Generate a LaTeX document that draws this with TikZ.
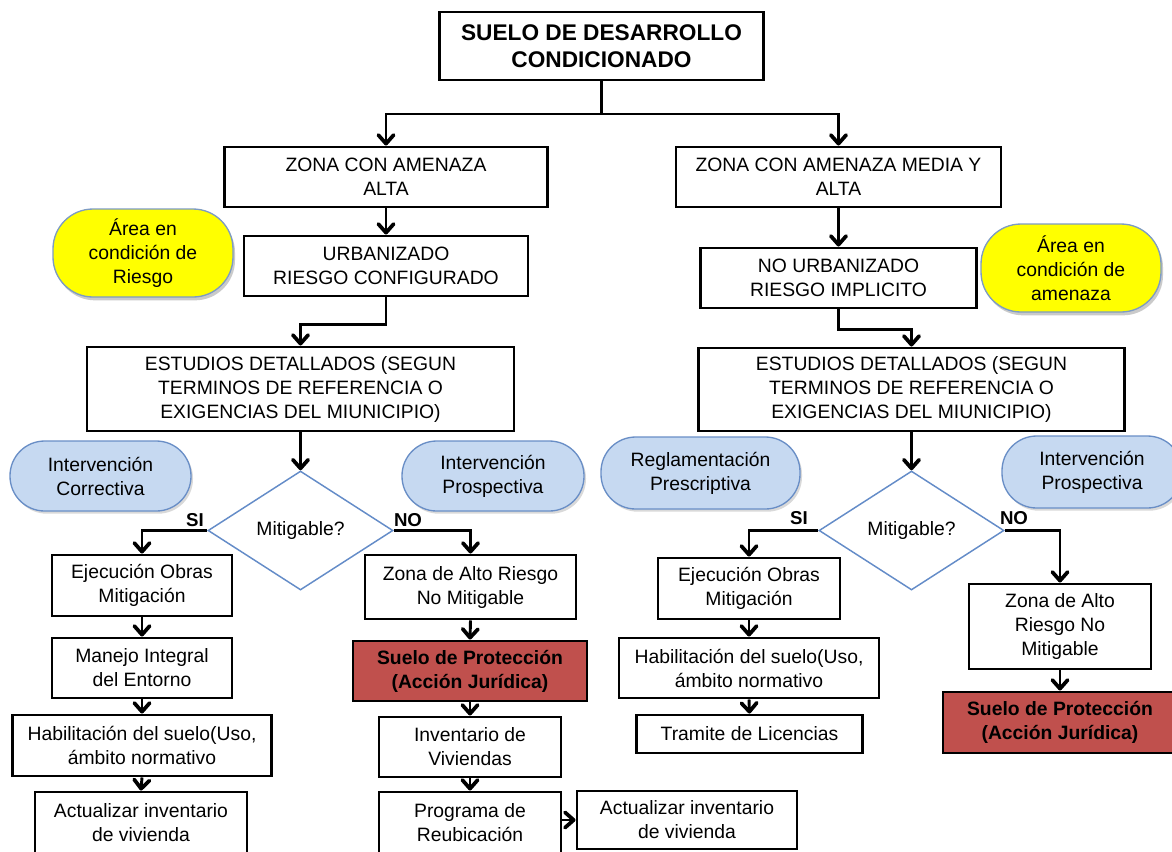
\documentclass[tikz,border=0pt]{standalone}
\usepackage{fontspec}
\setmainfont{Liberation Sans}
\usetikzlibrary{shapes.geometric,arrows.meta,shadows}
\definecolor{notefill}{RGB}{255,255,0}
\definecolor{noteline}{RGB}{125,155,195}
\definecolor{bluefill}{RGB}{198,217,241}
\definecolor{blueline}{RGB}{105,142,198}
\definecolor{decline}{RGB}{100,140,200}
\definecolor{protfill}{RGB}{192,80,77}
\begin{document}
\begin{tikzpicture}[x=0.75pt,y=-0.75pt,
  sz/.style 2 args={minimum width=#1*0.75pt, minimum height=#2*0.75pt},
  txt/.style={font=\fontsize{14.5}{18}\selectfont},
  box/.style={draw, line width=2.2pt, fill=white, align=center, inner sep=0pt, txt},
  protbox/.style={box, fill=protfill, font=\bfseries\fontsize{14.5}{18}\selectfont},
  note/.style={draw=noteline, line width=1pt, fill=notefill, align=center, inner sep=0pt,
    rounded corners=30pt, txt,
    drop shadow={shadow xshift=1.5pt, shadow yshift=-2.5pt, opacity=0.35, fill=black!60}},
  tag/.style={draw=blueline, line width=1pt, fill=bluefill, align=center, inner sep=0pt,
    rounded corners=26pt, txt,
    drop shadow={shadow xshift=1.5pt, shadow yshift=-2pt, opacity=0.25, fill=black!60}},
  decision/.style={diamond, draw=decline, line width=1.1pt, fill=white, inner sep=0pt,
    aspect=1.55, txt},
  lbl/.style={font=\bfseries\fontsize{14}{16}\selectfont, inner sep=0pt},
  arr/.style={draw, line width=2.2pt,
    -{Straight Barb[length=6.5pt,width=11.5pt,line width=2.8pt,round]}}
]
\useasboundingbox (0,0) rectangle (1172,851);
\clip (0,0) rectangle (1172,851);

% root
\node[box, sz={324}{68}, font=\bfseries\fontsize{17}{20.5}\selectfont] (top) at (601.5,46)
  {SUELO DE DESARROLLO\\CONDICIONADO};

% first level
\node[box, sz={323}{60}] (z1L) at (386,177) {ZONA CON AMENAZA\\ALTA};
\node[box, sz={325}{60}] (z1R) at (838.5,177) {ZONA CON AMENAZA MEDIA Y\\ALTA};

% notes
\node[note, sz={180}{88}] (yL) at (143,253) {Área en\\condición de\\Riesgo};
\node[note, sz={180}{88}] (yR) at (1071,268) {Área en\\condición de\\amenaza};

% second level
\node[box, sz={284}{60}] (u) at (386,266) {URBANIZADO\\RIESGO CONFIGURADO};
\node[box, sz={276}{60}] (nu) at (838.5,278) {NO URBANIZADO\\RIESGO IMPLICITO};

% studies
\node[box, sz={427}{84}] (estL) at (300.5,389)
  {ESTUDIOS DETALLADOS (SEGUN\\TERMINOS DE REFERENCIA O\\EXIGENCIAS DEL MIUNICIPIO)};
\node[box, sz={426}{83}] (estR) at (911.5,389.5)
  {ESTUDIOS DETALLADOS (SEGUN\\TERMINOS DE REFERENCIA O\\EXIGENCIAS DEL MIUNICIPIO)};

% intervention tags
\node[tag, sz={181}{70}] (bL1) at (100.5,476) {Intervención\\Correctiva};
\node[tag, sz={182}{70}] (bL2) at (493,476) {Intervención\\Prospectiva};
\node[tag, sz={199}{72}] (bR1) at (700.5,473) {Reglamentación\\Prescriptiva};
\node[tag, sz={180}{72}] (bR2) at (1092,472) {Intervención\\Prospectiva};

% decisions
\node[decision, sz={185}{119}] (dL) at (300.5,530.5) {Mitigable?};
\node[decision, sz={185}{119}] (dR) at (911.5,530.5) {Mitigable?};
\node[lbl] (siL) at (195,520) {SI};
\node[lbl] (noL) at (408,520) {NO};
\node[lbl] (siR) at (799,518) {SI};
\node[lbl] (noR) at (1014,518) {NO};

% left branch, mitigable
\node[box, sz={180}{61}] (ejL) at (142,585.5) {Ejecución Obras\\Mitigación};
\node[box, sz={180}{60}] (mL) at (142,668) {Manejo Integral\\del Entorno};
\node[box, sz={259}{61}] (hL) at (142,745.5) {Habilitación del suelo(Uso,\\ámbito normativo};
\node[box, sz={212}{62}] (aL) at (141,823) {Actualizar inventario\\de vivienda};

% left branch, not mitigable
\node[box, sz={211}{64}] (zaL) at (470.5,587) {Zona de Alto Riesgo\\No Mitigable};
\node[protbox, sz={234}{60}] (rL) at (470,671) {Suelo de Protección\\(Acción Jurídica)};
\node[box, sz={182}{60}] (iL) at (470,747) {Inventario de\\Viviendas};
\node[box, sz={182}{62}] (pL) at (470,823) {Programa de\\Reubicación};
\node[box, sz={220}{58}] (aL2) at (687,820) {Actualizar inventario\\de vivienda};

% right branch, mitigable
\node[box, sz={182}{61}] (ejR) at (749,588.5) {Ejecución Obras\\Mitigación};
\node[box, sz={260}{60}] (hR) at (749,668) {Habilitación del suelo(Uso,\\ámbito normativo};
\node[box, sz={226}{38}] (tR) at (749.5,734) {Tramite de Licencias};

% right branch, not mitigable
\node[box, sz={182}{85}] (zaR) at (1060,626.5) {Zona de Alto\\Riesgo No\\Mitigable};
\node[protbox, sz={234}{61}] (rR) at (1060,722.5) {Suelo de Protección\\(Acción Jurídica)};

% connectors
\coordinate (j1) at (601.5,114);
\draw[line width=2.2pt] (top.south) -- (j1);
\draw[arr] (j1) -| (z1L.north);
\draw[arr] (j1) -| (z1R.north);
\draw[arr] (z1L.south) -- (u.north);
\draw[arr] (z1R.south) -- (nu.north);
\draw[arr] (u.south) -- ++(0,27) -| (estL.north);
\draw[arr] (nu.south) -- ++(0,20) -| (estR.north);
\draw[arr] (estL.south) -- (dL.north);
\draw[arr] (estR.south) -- (dR.north);

\draw[arr] (dL.west) -| (ejL.north);
\draw[arr] (dL.east) -| (zaL.north);
\draw[arr] (dR.west) -| (ejR.north);
\draw[arr] (dR.east) -| (zaR.north);

\draw[arr] (ejL.south) -- (mL.north);
\draw[arr] (mL.south) -- (hL.north);
\draw[arr] (hL.south) -- (aL.north);

\draw[arr] (zaL.south) -- (rL.north);
\draw[arr] (rL.south) -- (iL.north);
\draw[arr] (iL.south) -- (pL.north);
\draw[arr] (pL.east |- aL2.west) -- (aL2.west);

\draw[arr] (ejR.south) -- (hR.north);
\draw[arr] (hR.south) -- (tR.north);
\draw[arr] (zaR.south) -- (rR.north);
\end{tikzpicture}
\end{document}
